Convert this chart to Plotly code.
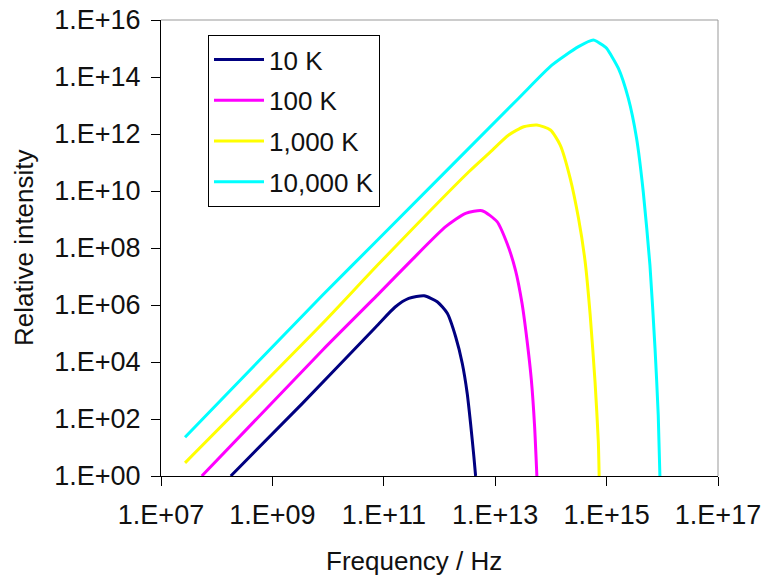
import plotly.graph_objects as go

# ---- data ----
series_labels = ["10 K", "100 K", "1,000 K", "10,000 K"]
series_colors = ["#000080", "#FF00FF", "#FFFF00", "#00FFFF"]

freq_10K = [1.79e8, 3.5e9, 7.2e10, 1.6e11, 2.8e11, 5.3e11, 9.1e11, 1.38e12,
            1.95e12, 2.56e12, 3.14e12, 3.61e12, 4.14e12, 4.45e12]
int_10K = [1.0, 3.6e2, 1.7e5, 8.5e5, 1.7e6, 2.1e6, 1.3e6, 5.1e5,
           7.7e4, 9.0e3, 8.0e2, 71, 4.8, 1.0]

freq_100K = [5.4e7, 8.0e9, 8.3e10, 3.26e11, 1.29e12, 2.94e12, 5.8e12, 1.08e13,
             1.63e13, 2.31e13, 3.03e13, 3.72e13, 4.46e13, 5.1e13, 5.6e13]
int_100K = [1.0, 2.64e4, 2.6e6, 4.0e7, 5.6e8, 1.65e9, 2.04e9, 8.4e8,
            1.46e8, 1.69e7, 1.15e6, 5.9e4, 2.3e3, 54, 1.0]

freq_1000K = [2.7e7, 8.0e9, 8.3e10, 3.37e12, 7.7e12, 1.75e13, 3.25e13, 5.6e13,
              9.8e13, 1.47e14, 2.22e14, 3.13e14, 4.12e14, 5.07e14, 6.2e14,
              7.1e14, 7.35e14]
int_1000K = [2.9, 2.28e5, 2.9e7, 4.75e10, 2.1e11, 9.2e11, 1.8e12, 2.07e12,
             1.38e12, 4.1e11, 2.8e10, 1.1e9, 3.3e7, 4.5e5, 2.0e3,
             16, 1.0]

freq_10000K = [2.7e7, 8.0e9, 8.3e10, 2.64e13, 1.04e14, 3.13e14, 5.8e14, 8.8e14,
               1.0e15, 1.63e15, 2.45e15, 3.45e15, 4.55e15, 6.0e15, 7.4e15,
               8.45e15, 9.06e15]
int_10000K = [23, 2.24e6, 2.19e8, 1.8e13, 2.6e14, 1.16e15, 1.99e15, 1.25e15,
              1.02e15, 2.0e14, 1.8e13, 7.1e11, 9.4e9, 2.5e7, 3.0e4,
              1.4e2, 1.0]

x_tick_vals = [1e7, 1e9, 1e11, 1e13, 1e15, 1e17]
x_tick_text = ["1.E+07", "1.E+09", "1.E+11", "1.E+13", "1.E+15", "1.E+17"]
y_tick_vals = [1e0, 1e2, 1e4, 1e6, 1e8, 1e10, 1e12, 1e14, 1e16]
y_tick_text = ["1.E+00", "1.E+02", "1.E+04", "1.E+06", "1.E+08",
               "1.E+10", "1.E+12", "1.E+14", "1.E+16"]

x_title = "Frequency / Hz"
y_title = "Relative intensity"

# ---- figure ----
FONT = "Liberation Sans, Arial, sans-serif"
TXT = "#111111"
FS = 26
FS_TICK = 27

xs = [freq_10K, freq_100K, freq_1000K, freq_10000K]
ys = [int_10K, int_100K, int_1000K, int_10000K]

fig = go.Figure()
for i, (x, y) in enumerate(zip(xs, ys)):
    fig.add_trace(go.Scatter(
        x=x, y=y, mode="lines", name=series_labels[i],
        legendgroup=series_labels[i],
        line=dict(color=series_colors[i], width=3, shape="spline", smoothing=0.6),
    ))

W, H = 762, 579
L, R, T, B = 161, 44, 20, 103
pw, ph = W - L - R, H - T - B

def px_x(px):
    return (px - L) / pw

def px_y(py):
    return (H - B - py) / ph

axis_common = dict(
    type="log", showgrid=False, zeroline=False, automargin=False,
    showline=True, linecolor="black", linewidth=1,
    ticks="outside", tickcolor="black", tickwidth=1,
    tickfont=dict(family=FONT, size=FS_TICK, color=TXT),
)

fig.update_layout(
    width=W, height=H,
    margin=dict(l=L, r=R, t=T, b=B, pad=0, autoexpand=False),
    paper_bgcolor="white", plot_bgcolor="white",
    font=dict(family=FONT, size=FS, color=TXT),
    xaxis=dict(range=[7, 17], tickvals=x_tick_vals, ticktext=x_tick_text,
               ticklen=9, ticklabelstandoff=6, **axis_common),
    yaxis=dict(range=[0, 16], tickvals=y_tick_vals, ticktext=y_tick_text,
               ticklen=9, ticklabelstandoff=5, **axis_common),
    showlegend=True,
    legend=dict(
        x=px_x(208), y=px_y(35), xanchor="left", yanchor="top",
        bgcolor="white", bordercolor="black", borderwidth=1,
        font=dict(family=FONT, size=FS, color=TXT),
        itemwidth=50, tracegroupgap=4,
    ),
    shapes=[
        dict(type="line", xref="paper", yref="paper", x0=0, x1=1, y0=1, y1=1,
             line=dict(color="#999999", width=1)),
        dict(type="line", xref="paper", yref="paper", x0=1, x1=1, y0=0, y1=1,
             line=dict(color="#999999", width=1)),
    ],
    annotations=[
        dict(text=x_title, xref="paper", yref="paper",
             x=px_x(414), y=px_y(561), xanchor="center", yanchor="middle",
             showarrow=False, font=dict(family=FONT, size=FS, color=TXT)),
        dict(text=y_title, xref="paper", yref="paper",
             x=px_x(24), y=px_y(248), xanchor="center", yanchor="middle",
             textangle=-90, showarrow=False,
             font=dict(family=FONT, size=FS, color=TXT)),
    ],
)

fig.write_html(
    "out.html",
    config={"displayModeBar": False},
    post_script="document.body.style.margin='0';document.body.style.overflow='hidden';",
)
